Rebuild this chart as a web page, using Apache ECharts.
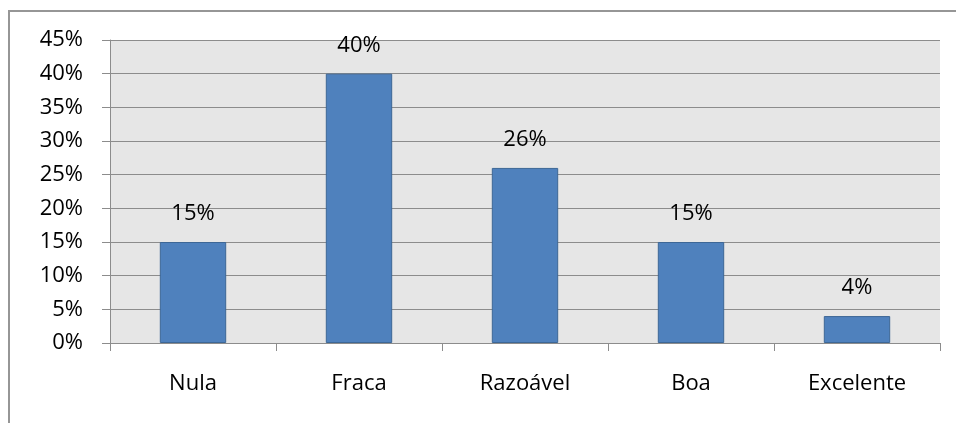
<!DOCTYPE html>
<html>
<head>
<meta charset="utf-8">
<script src="https://cdn.jsdelivr.net/npm/echarts@6/dist/echarts.min.js"></script>
<style>
  html, body { margin: 0; padding: 0; background: #fff; }
  #frame { position: absolute; left: 8px; top: 10px; width: 1000px; height: 500px;
           border-left: 2px solid #969696; border-top: 2px solid #969696; box-sizing: border-box; }
  #chart { position: absolute; left: 0; top: 0; width: 956px; height: 423px; }
</style>
</head>
<body>
<div id="frame"></div>
<div id="chart"></div>
<script>
// Rating categories and share of answers (percent)
const categories = ['Nula', 'Fraca', 'Razoável', 'Boa', 'Excelente'];
const shares = [15, 40, 26, 15, 4];
const yTicks = [0, 5, 10, 15, 20, 25, 30, 35, 40, 45];

const font = '"Open Sans", sans-serif';
const chart = echarts.init(document.getElementById('chart'), null, { renderer: 'canvas' });
chart.setOption({
  animation: false,
  grid: { left: 110, right: 16, top: 40, bottom: 80, show: true, backgroundColor: '#e6e6e6', borderWidth: 0 },
  xAxis: {
    type: 'category',
    data: categories,
    axisLine: { show: true, lineStyle: { color: '#8c8c8c', width: 1 } },
    axisTick: { show: true, length: 8, lineStyle: { color: '#8c8c8c' } },
    axisLabel: { color: '#000', fontSize: 22, fontFamily: font, margin: 30 }
  },
  yAxis: {
    type: 'value',
    min: 0, max: 45, interval: 5,
    axisLine: { show: true, lineStyle: { color: '#8c8c8c', width: 1 } },
    axisTick: { show: true, length: 8, lineStyle: { color: '#8c8c8c' } },
    splitLine: { show: true, lineStyle: { color: '#8c8c8c', width: 1 } },
    axisLabel: {
      color: '#000', fontSize: 22, fontFamily: font, margin: 27,
      formatter: v => (yTicks.includes(v) ? v + '%' : '')
    }
  },
  series: [{
    type: 'bar',
    data: shares,
    barWidth: '40%',
    itemStyle: { color: '#4f81bd', borderColor: '#3d6796', borderWidth: 1 },
    label: {
      show: true, position: 'top', distance: 17,
      color: '#000', fontSize: 22, fontFamily: font,
      formatter: p => p.value + '%'
    }
  }]
});
</script>
</body>
</html>
